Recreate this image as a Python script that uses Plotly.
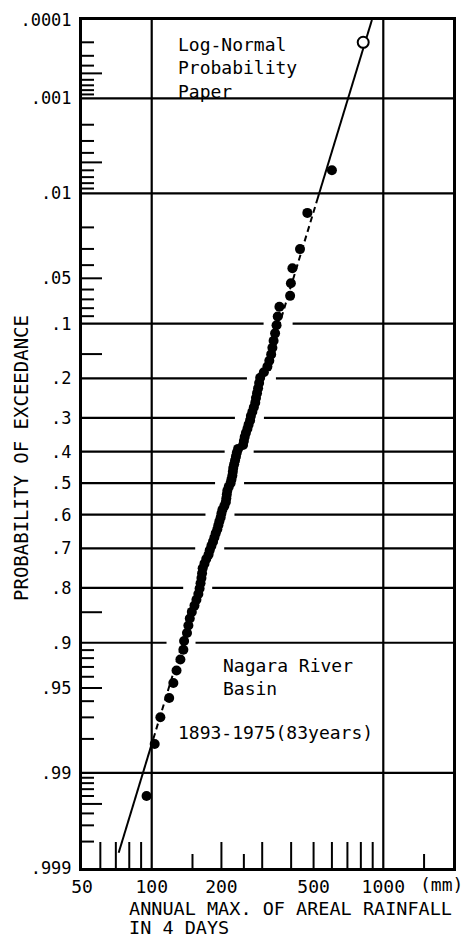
import math
from statistics import NormalDist
import plotly.graph_objects as go

# ---------------- data ----------------
rain_mm = [600, 470, 437, 405, 399, 396, 356, 350, 346, 341,
           336, 332, 328, 322, 316, 305, 294, 291, 288, 285,
           282, 280, 276, 272, 268, 266, 262, 259, 255, 252,
           250, 248, 236, 233, 231, 229, 227, 225, 224, 223,
           221, 219, 215, 212, 211, 210, 209, 206, 202, 200,
           198.5, 196, 194, 192, 189, 186.5, 184, 181, 178, 176,
           172, 169, 166, 165, 164, 162.5, 161, 159, 156, 153,
           149, 146, 144, 142, 138, 137, 133, 128, 124, 119,
           109, 103, 95]
exceed_p = [0.0060, 0.0150, 0.0301, 0.0422, 0.0542, 0.0663, 0.0783, 0.0904, 0.1024, 0.1145,
            0.1265, 0.1386, 0.1506, 0.1627, 0.1747, 0.1867, 0.1988, 0.2108, 0.2229, 0.2349,
            0.2470, 0.2590, 0.2711, 0.2831, 0.2952, 0.3072, 0.3193, 0.3313, 0.3434, 0.3554,
            0.3675, 0.3795, 0.3916, 0.4036, 0.4157, 0.4277, 0.4398, 0.4518, 0.4639, 0.4759,
            0.4880, 0.5000, 0.5120, 0.5241, 0.5361, 0.5482, 0.5602, 0.5723, 0.5843, 0.5964,
            0.6084, 0.6205, 0.6325, 0.6446, 0.6566, 0.6687, 0.6807, 0.6928, 0.7048, 0.7169,
            0.7289, 0.7410, 0.7530, 0.7651, 0.7771, 0.7892, 0.8012, 0.8133, 0.8253, 0.8373,
            0.8494, 0.8614, 0.8735, 0.8855, 0.8976, 0.9096, 0.9217, 0.9337, 0.9458, 0.9578,
            0.9699, 0.9819, 0.9940]
open_mm = [819]
open_p = [0.0002]
fit_mm = [72, 893]
fit_p = [0.9985, 0.0001]
fit_dash_p = [0.0123, 0.980]

ytick_p = [0.0001, 0.001, 0.01, 0.05, 0.1, 0.2, 0.3, 0.4, 0.5, 0.6, 0.7, 0.8, 0.9, 0.95, 0.99, 0.999]
ytick_text = [".0001", ".001", ".01", ".05", ".1", ".2", ".3", ".4", ".5", ".6", ".7", ".8", ".9", ".95", ".99", ".999"]
xtick_vals = [50, 100, 200, 500, 1000]
xtick_text = ["50", "100", "200", "500", "1000"]
grid_p = [0.001, 0.01, 0.1, 0.2, 0.3, 0.4, 0.5, 0.6, 0.7, 0.8, 0.9, 0.99]
grid_gap_p = [0.1, 0.2, 0.3, 0.4, 0.5, 0.6, 0.7, 0.8, 0.9]
grid_x = [100, 1000]
minor_p_short = [0.0002, 0.0003, 0.0004, 0.0006, 0.0007, 0.0008, 0.0009,
                 0.002, 0.003, 0.004, 0.006, 0.007, 0.008, 0.009,
                 0.02, 0.03, 0.04, 0.06, 0.07, 0.08, 0.09,
                 0.91, 0.92, 0.93, 0.94, 0.96, 0.97, 0.98,
                 0.991, 0.992, 0.993, 0.994, 0.996, 0.997, 0.998]
minor_p_long = [0.0005, 0.005, 0.05, 0.15, 0.85, 0.95, 0.995]
minor_x_tall = [60, 70, 80, 90, 200, 300, 400, 500, 600, 700, 800, 900]
minor_x_short = [150, 250, 1500]

# ---------------- geometry / style ----------------
W, H = 466, 941
ML, MR, MT, MB = 82, 13, 20, 73
PW, PH = W - ML - MR, H - MT - MB
FONT = "DejaVu Sans Mono"

nd = NormalDist()


def zq(p):
    return nd.inv_cdf(1.0 - p)


Z_LO, Z_HI = zq(0.999), zq(0.0001)
LX_LO, LX_HI = math.log10(50), math.log10(2000)


def xdom(v):
    return (math.log10(v) - LX_LO) / (LX_HI - LX_LO)


def paper_x(px):
    return (px - ML) / PW


def paper_y(py):
    return 1 - (py - MT) / PH


fz = [zq(p) for p in fit_p]
fl = [math.log10(v) for v in fit_mm]


def fit_log(z):
    return fl[0] + (fl[1] - fl[0]) * (z - fz[0]) / (fz[1] - fz[0])


fig = go.Figure()

# fitted line: solid ends, dashed through the data
zb, zt = zq(fit_dash_p[1]), zq(fit_dash_p[0])
segs = [(fz[0], zb, "solid"), (zb, zt, "6px,4px"), (zt, fz[1], "solid")]
for z0, z1, dash in segs:
    fig.add_trace(go.Scatter(
        x=[10 ** fit_log(z0), 10 ** fit_log(z1)], y=[z0, z1], mode="lines",
        line=dict(color="black", width=2, dash=dash), showlegend=False, hoverinfo="skip"))

fig.add_trace(go.Scatter(
    x=rain_mm, y=[zq(p) for p in exceed_p], mode="markers",
    marker=dict(color="black", size=10, line=dict(width=0)), showlegend=False))
fig.add_trace(go.Scatter(
    x=open_mm, y=[zq(p) for p in open_p], mode="markers",
    marker=dict(color="white", size=11, line=dict(color="black", width=2)), showlegend=False))

shapes = []
GAP_L, GAP_R = 16, 13
for p in grid_p:
    z = zq(p)
    if p in grid_gap_p:
        c = xdom(10 ** fit_log(z))
        parts = [(0, c - GAP_L / PW), (c + GAP_R / PW, 1)]
    else:
        parts = [(0, 1)]
    for a, b in parts:
        shapes.append(dict(type="line", xref="x domain", yref="y", x0=a, x1=b, y0=z, y1=z,
                           line=dict(color="black", width=2.2), layer="below"))
for v in grid_x:
    shapes.append(dict(type="line", xref="x domain", yref="y domain", x0=xdom(v), x1=xdom(v),
                       y0=0, y1=1, line=dict(color="black", width=2.2), layer="below"))
for plist, ln in ((minor_p_short, 12), (minor_p_long, 20)):
    for p in plist:
        z = zq(p)
        shapes.append(dict(type="line", xref="x domain", yref="y", x0=0, x1=ln / PW, y0=z, y1=z,
                           line=dict(color="black", width=2), layer="below"))
for vlist, ln in ((minor_x_tall, 26), (minor_x_short, 14)):
    for v in vlist:
        shapes.append(dict(type="line", xref="x domain", yref="y domain", x0=xdom(v), x1=xdom(v),
                           y0=0, y1=ln / PH, line=dict(color="black", width=2), layer="below"))

ann = []


def txt(s, px, py, size=18, xanchor="left", angle=0):
    ann.append(dict(text=s, x=paper_x(px), y=paper_y(py), xref="paper", yref="paper",
                    xanchor=xanchor, yanchor="middle", showarrow=False, textangle=angle,
                    font=dict(family=FONT, size=size, color="black")))


txt("Log-Normal", 176, 45)
txt("Probability", 176, 68)
txt("Paper", 176, 91)
txt("Nagara River", 221, 665)
txt("Basin", 221, 688)
txt("1893-1975(83years)", 176, 732)
txt("(mm)", 441, 884, xanchor="center")
txt("PROBABILITY OF EXCEEDANCE", 21, 458, size=19, xanchor="center", angle=-90)
txt("ANNUAL MAX. OF AREAL RAINFALL", 127, 908, size=18.5)
txt("IN 4 DAYS", 127, 928, size=18.5)

fig.update_layout(
    width=W, height=H, margin=dict(l=ML, r=MR, t=MT, b=MB, autoexpand=False),
    paper_bgcolor="white", plot_bgcolor="white",
    shapes=shapes, annotations=ann, showlegend=False,
    xaxis=dict(type="log", range=[LX_LO, LX_HI], tickvals=xtick_vals, ticktext=xtick_text,
               showgrid=False, zeroline=False, showline=True, mirror=True, linewidth=3,
               linecolor="black", ticks="", tickfont=dict(family=FONT, size=18, color="black")),
    yaxis=dict(range=[Z_LO - 1e-4, Z_HI + 1e-4], tickvals=[zq(p) for p in ytick_p],
               ticktext=ytick_text, showgrid=False, zeroline=False, showline=True, mirror=True,
               linewidth=3, linecolor="black", ticks="outside", ticklen=4, tickwidth=1,
               tickcolor="white", tickfont=dict(family=FONT, size=17, color="black")),
)

fig.write_html("out.html")
